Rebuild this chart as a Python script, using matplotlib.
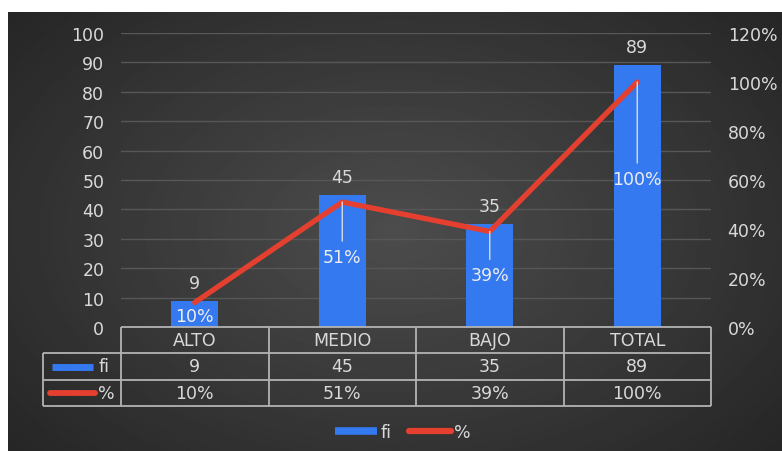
import numpy as np
import matplotlib.pyplot as plt
from matplotlib.lines import Line2D
from matplotlib.ticker import PercentFormatter

categories = ['ALTO', 'MEDIO', 'BAJO', 'TOTAL']
fi = [9, 45, 35, 89]
pct = [0.10, 0.51, 0.39, 1.00]
pct_labels = ['10%', '51%', '39%', '100%']

# how far (px) each % label sits below its point in the original
pct_label_drop = [14, 55, 44, 97]

W, H = 782, 452
BLUE = '#3479F0'
RED = '#E5402F'
TXT = '#D9D9D9'
GRID = '#575757'
EDGE = '#B3B3B3'
FS = 12.5


def fx(px):
    return px / W


def fy(py):
    return 1 - py / H


fig = plt.figure(figsize=(W / 100, H / 100), dpi=100, facecolor='white')

# dark radial background
bg = fig.add_axes([fx(8), 0, 1 - fx(8), fy(13)])
yy, xx = np.mgrid[0:1:300j, 0:1:500j]
r = np.sqrt(((xx - 0.5) / 0.75) ** 2 + ((yy - 0.5) / 0.85) ** 2)
bg.imshow(0.30 - 0.17 * r, cmap='gray', vmin=0, vmax=1, aspect='auto',
          extent=[0, 1, 0, 1])
bg.axis('off')

# bars
ax = fig.add_axes([fx(121), fy(328), fx(711) - fx(121), fy(34) - fy(328)])
ax.set_facecolor('none')
x = np.arange(len(categories))
ax.bar(x, fi, width=0.32, color=BLUE, zorder=2)
ax.set_xlim(-0.5, 3.5)
ax.set_ylim(0, 100)
ax.set_yticks(range(0, 101, 10))
ax.set_xticks([])
ax.grid(axis='y', color=GRID, lw=1)
ax.set_axisbelow(True)
ax.tick_params(length=0, labelcolor=TXT, labelsize=FS, pad=12)
for s in ax.spines.values():
    s.set_visible(False)

for xi, v in zip(x, fi):
    ax.annotate(str(v), (xi, v), xytext=(0, 18), textcoords='offset pixels',
                ha='center', va='center', color=TXT, fontsize=FS)

# percentage line
ax2 = ax.twinx()
ax2.set_ylim(0, 1.2)
ax2.set_yticks(np.arange(0, 1.21, 0.2))
ax2.yaxis.set_major_formatter(PercentFormatter(1.0, decimals=0))
ax2.tick_params(length=0, labelcolor=TXT, labelsize=FS, pad=12)
for s in ax2.spines.values():
    s.set_visible(False)
ax2.plot(x, pct, color=RED, lw=3.8, solid_capstyle='round',
         solid_joinstyle='round', zorder=3)

for xi, p, lbl, d in zip(x, pct, pct_labels, pct_label_drop):
    arrow = None
    if d > 30:
        arrow = dict(arrowstyle='-', color='#DADADA', lw=1, shrinkA=3, shrinkB=0)
    ax2.annotate(lbl, (xi, p), xytext=(0, -d), textcoords='offset pixels',
                 ha='center', va='center', color='#EDEDED', fontsize=FS,
                 arrowprops=arrow, zorder=4)

# data table under the axis
tab = fig.add_axes([fx(43), fy(407), fx(711) - fx(43), fy(328) - fy(407)])
left = -0.5 - 78 / 147.5
tab.set_xlim(left, 3.5)
tab.set_ylim(3, 0)
tab.axis('off')
tab.hlines([0], -0.5, 3.5, color=EDGE, lw=1.3, clip_on=False)
tab.hlines([1, 2, 3], left, 3.5, color=EDGE, lw=1.3, clip_on=False)
tab.vlines(np.arange(5) - 0.5, 0, 3, color=EDGE, lw=1.3, clip_on=False)
tab.vlines([left], 1, 3, color=EDGE, lw=1.3, clip_on=False)

for xi, c, v, lbl in zip(x, categories, fi, pct_labels):
    tab.text(xi, 0.5, c, ha='center', va='center', color=TXT, fontsize=FS)
    tab.text(xi, 1.5, str(v), ha='center', va='center', color=TXT, fontsize=FS)
    tab.text(xi, 2.5, lbl, ha='center', va='center', color=TXT, fontsize=FS)

tab.plot([left + 0.061, left + 0.339], [1.5, 1.5], color=BLUE, lw=5,
         solid_capstyle='butt', clip_on=False)
tab.plot([left + 0.05, left + 0.35], [2.5, 2.5], color=RED, lw=4.2,
         solid_capstyle='round', clip_on=False)
tab.text(left + 0.38, 1.5, 'fi', ha='left', va='center', color=TXT, fontsize=FS)
tab.text(left + 0.37, 2.5, '%', ha='left', va='center', color=TXT, fontsize=FS)

# legend
handles = [Line2D([], [], color=BLUE, lw=5.5, solid_capstyle='butt'),
           Line2D([], [], color=RED, lw=4.5, solid_capstyle='round')]
fig.legend(handles, ['fi', '%'], loc='center', bbox_to_anchor=(fx(403), fy(433)),
           ncol=2, frameon=False, handlelength=2.4, handletextpad=0.2,
           columnspacing=1.0, labelcolor=TXT, fontsize=FS)

fig.savefig('out.png', dpi=100, facecolor='white')
